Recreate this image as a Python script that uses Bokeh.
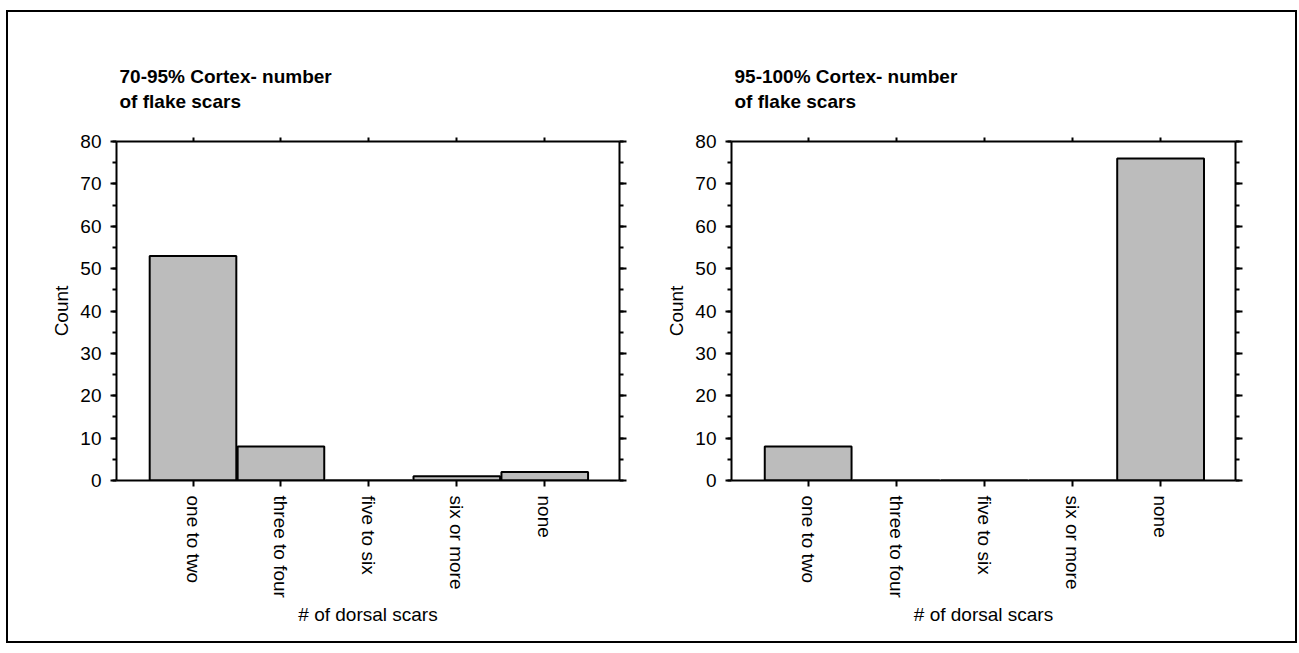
from bokeh.plotting import figure
from bokeh.layouts import row
from bokeh.models import (Range1d, LinearAxis, FixedTicker, SingleIntervalTicker,
                          CustomLabelingPolicy)
from bokeh.embed import file_html
from bokeh.resources import INLINE

# ---- data ----
categories = ["one to two", "three to four", "five to six", "six or more", "none"]
counts_70_95 = [53, 8, 0, 1, 2]
counts_95_100 = [8, 0, 0, 0, 76]
title_70_95 = ["70-95% Cortex- number", "of flake scars"]
title_95_100 = ["95-100% Cortex- number", "of flake scars"]
x_axis_label = "# of dorsal scars"
y_axis_label = "Count"
y_max = 80
y_tick_step = 10

FONT = "Liberation Sans"
BAR_FILL = "#bcbcbc"

NO_LABELS = CustomLabelingPolicy(code="""
try { return indices.constructor.all_unset(indices.size) } catch (e) { return indices }
""")


def make_panel(title_lines, counts, width, mb_left, mb_right):
    positions = [i + 1 for i in range(len(categories))]
    p = figure(width=width, height=629,
               x_range=Range1d(0.13, 5.85), y_range=Range1d(0, y_max),
               output_backend="svg", toolbar_location=None,
               min_border_left=mb_left, min_border_right=mb_right,
               min_border_top=129, min_border_bottom=161,
               outline_line_color=None,
               background_fill_color="white", border_fill_color="white")
    p.xgrid.visible = False
    p.ygrid.visible = False

    p.vbar(x=positions, top=counts, bottom=0, width=0.985,
           fill_color=BAR_FILL, line_color="black", line_width=2)

    # bottom axis
    xa = p.xaxis[0]
    xa.ticker = FixedTicker(ticks=positions)
    xa.major_label_overrides = {pos: cat for pos, cat in zip(positions, categories)}
    xa.major_label_orientation = "vertical"
    xa.axis_label = x_axis_label
    # left axis
    ya = p.yaxis[0]
    ya.ticker = SingleIntervalTicker(interval=y_tick_step, num_minor_ticks=2)
    ya.axis_label = y_axis_label

    # right axis (ticks only)
    ra = LinearAxis(ticker=SingleIntervalTicker(interval=y_tick_step, num_minor_ticks=2),
                    major_label_policy=NO_LABELS,
                    major_label_text_font_size="0px", major_label_standoff=0)
    p.add_layout(ra, "right")
    # top axis (ticks only)
    ta = LinearAxis(ticker=FixedTicker(ticks=positions),
                    major_label_policy=NO_LABELS,
                    major_label_text_font_size="0px", major_label_standoff=0)
    p.add_layout(ta, "above")

    for ax in (xa, ya, ra, ta):
        ax.axis_line_color = "black"
        ax.axis_line_width = 2
        ax.major_tick_line_color = "black"
        ax.major_tick_line_width = 2
        ax.minor_tick_line_color = "black"
        ax.minor_tick_line_width = 2
        ax.major_tick_in = 0
        ax.minor_tick_in = 0
        ax.major_label_text_font = FONT
        ax.major_label_text_font_size = "19px" if ax in (xa, ya) else "0px"
        ax.major_label_text_color = "black"
        ax.axis_label_text_font = FONT
        ax.axis_label_text_font_size = "19px"
        ax.axis_label_text_font_style = "normal"
        ax.axis_label_text_color = "black"

    xa.major_tick_out = 6
    xa.minor_tick_out = 0
    xa.major_label_standoff = 9
    xa.axis_label_standoff = 3
    ya.major_tick_out = 6
    ya.minor_tick_out = 4
    ya.major_label_standoff = 9
    ya.axis_label_standoff = 5
    ra.major_tick_out = 7
    ra.minor_tick_out = 4
    ta.major_tick_out = 4
    ta.minor_tick_out = 0

    # two-line bold title, left aligned with the frame
    p.title.text = "\n".join(title_lines)
    p.title.align = "left"
    p.title.offset = 3
    p.title.standoff = 50
    p.title.text_font = FONT
    p.title.text_font_size = "19px"
    p.title.text_font_style = "bold"
    p.title.text_color = "black"
    p.title.text_line_height = 1.2
    return p


left = make_panel(title_70_95, counts_70_95, 655, 108, 44)
right = make_panel(title_95_100, counts_95_100, 632, 68, 60)

layout = row(left, right, margin=(10, 0, 0, 6), styles={"border": "2px solid black"})

open("out.html", "w").write(file_html(layout, INLINE))
